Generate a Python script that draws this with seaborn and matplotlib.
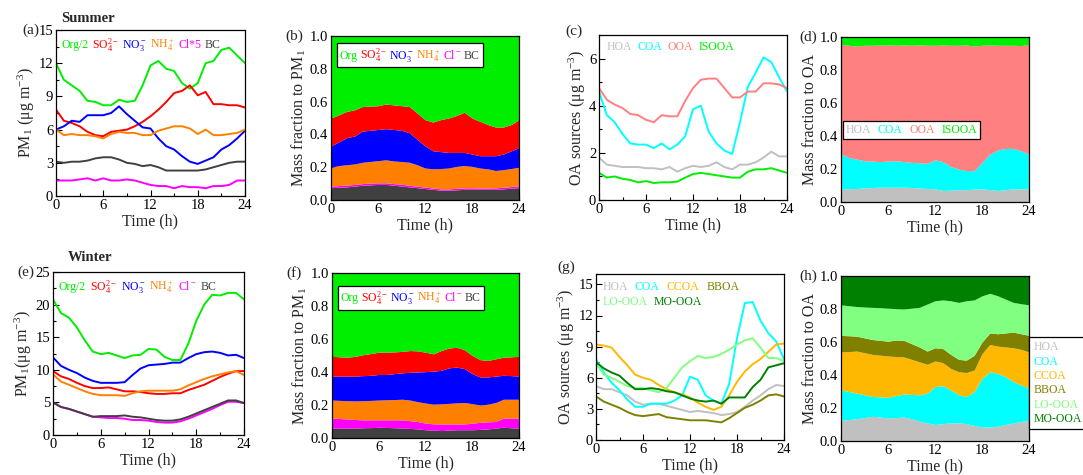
import numpy as np
import pandas as pd
import matplotlib
matplotlib.use("Agg")
import matplotlib.pyplot as plt
from matplotlib.ticker import MultipleLocator, FormatStrFormatter
from matplotlib.lines import Line2D
import seaborn as sns

# ---------------- data ----------------
hours = list(range(25))

# (a) Summer concentrations (ug m-3)
s_org2 = [12.0, 10.5, 10.0, 9.5, 8.6, 8.5, 8.2, 8.2, 8.7, 8.5, 8.6, 10.0, 11.8, 12.2, 11.5, 11.3, 10.2, 9.7, 10.2, 12.0, 12.2, 13.2, 13.4, 12.7, 12.0]
s_so4 = [7.8, 6.8, 6.6, 6.3, 5.8, 5.5, 5.4, 5.8, 5.9, 6.0, 6.3, 6.7, 7.2, 7.8, 8.5, 9.3, 9.5, 10.0, 9.1, 9.4, 8.3, 8.3, 8.2, 8.2, 8.0]
s_no3 = [6.0, 6.3, 6.8, 6.7, 7.3, 7.3, 7.3, 7.5, 8.1, 7.4, 6.8, 6.2, 6.1, 5.2, 4.5, 4.2, 3.6, 3.1, 2.9, 3.2, 3.5, 4.2, 4.6, 5.2, 5.9]
s_nh4 = [6.0, 5.5, 5.6, 5.5, 5.5, 5.4, 5.2, 5.6, 5.8, 5.7, 5.7, 5.5, 5.5, 5.9, 6.1, 6.3, 6.3, 6.1, 5.6, 6.0, 5.5, 5.5, 5.6, 5.7, 6.0]
s_cl5 = [1.4, 1.4, 1.4, 1.5, 1.6, 1.4, 1.6, 1.4, 1.4, 1.5, 1.4, 1.2, 1.0, 0.9, 0.9, 0.7, 0.9, 0.8, 0.8, 0.7, 0.9, 0.9, 1.0, 1.4, 1.4]
s_bc = [3.1, 3.0, 3.1, 3.1, 3.2, 3.4, 3.5, 3.5, 3.3, 3.0, 2.9, 2.7, 2.8, 2.6, 2.3, 2.3, 2.3, 2.3, 2.3, 2.4, 2.6, 2.8, 3.0, 3.1, 3.1]

# (b) Summer mass fractions to PM1
sf_bc = [.075, .078, .080, .085, .090, .092, .095, .095, .090, .085, .080, .075, .070, .065, .060, .060, .062, .065, .065, .065, .065, .065, .068, .072, .075]
sf_cl = [.010, .010, .011, .010, .010, .011, .010, .010, .010, .011, .010, .009, .009, .008, .008, .008, .009, .009, .009, .008, .008, .009, .010, .010, .010]
sf_nh4 = [.115, .122, .124, .125, .130, .132, .135, .140, .138, .139, .140, .131, .116, .117, .124, .127, .134, .136, .131, .122, .117, .106, .107, .110, .115]
sf_no3 = [.130, .145, .165, .170, .190, .190, .190, .190, .192, .190, .180, .155, .135, .110, .103, .095, .085, .080, .075, .075, .080, .090, .095, .108, .120]
sf_so4 = [.170, .165, .160, .160, .150, .147, .145, .150, .150, .150, .160, .160, .160, .175, .195, .210, .225, .245, .220, .210, .190, .175, .165, .160, .170]
sf_org = [.505, .485, .465, .455, .435, .433, .430, .420, .425, .430, .435, .475, .515, .530, .515, .505, .490, .470, .505, .525, .545, .560, .560, .545, .515]

# (c) Summer OA sources
s_hoa = [1.8, 1.5, 1.45, 1.4, 1.4, 1.4, 1.35, 1.35, 1.3, 1.4, 1.2, 1.35, 1.45, 1.4, 1.45, 1.6, 1.4, 1.3, 1.5, 1.5, 1.6, 1.8, 2.05, 1.85, 1.85]
s_coa = [4.6, 3.6, 3.3, 2.8, 2.4, 2.35, 2.35, 2.2, 2.4, 2.15, 2.35, 2.7, 3.85, 4.0, 2.9, 2.4, 2.1, 1.95, 3.3, 4.8, 5.4, 6.05, 5.85, 5.2, 4.6]
s_ooa = [4.75, 4.25, 4.05, 3.9, 3.65, 3.6, 3.4, 3.3, 3.6, 3.55, 3.55, 4.2, 4.75, 5.1, 5.15, 5.15, 4.75, 4.35, 4.35, 4.6, 4.6, 4.95, 4.95, 4.9, 4.75]
s_isooa = [1.15, 0.95, 1.0, 0.9, 0.85, 0.75, 0.8, 0.72, 0.75, 0.75, 0.78, 0.95, 1.1, 1.15, 1.1, 1.05, 1.0, 0.95, 0.95, 1.2, 1.3, 1.3, 1.35, 1.25, 1.15]

# (d) Summer OA fractions
sd_hoa = [.080, .080, .082, .085, .088, .090, .090, .090, .090, .088, .085, .082, .080, .070, .072, .075, .075, .078, .080, .075, .070, .075, .080, .080, .080]
sd_coa = [.210, .190, .178, .165, .160, .155, .158, .160, .155, .152, .153, .153, .175, .175, .143, .125, .115, .112, .160, .215, .245, .250, .245, .230, .210]
sd_ooa = [.665, .680, .685, .700, .702, .707, .704, .700, .707, .710, .714, .715, .695, .707, .735, .750, .762, .755, .710, .662, .635, .625, .625, .638, .665]
sd_isooa = [.050, .055, .060, .055, .055, .053, .053, .055, .053, .055, .053, .055, .055, .053, .055, .055, .053, .060, .055, .053, .055, .055, .055, .057, .050]

# (e) Winter concentrations
w_org2 = [20.8, 18.7, 18.0, 16.5, 14.5, 12.8, 12.4, 12.6, 12.2, 11.8, 12.2, 12.3, 13.2, 13.1, 12.0, 11.5, 11.5, 14.0, 17.5, 20.0, 21.5, 21.4, 21.8, 21.8, 20.8]
w_so4 = [9.8, 9.0, 8.6, 8.0, 7.5, 7.2, 7.2, 7.3, 7.0, 6.7, 6.7, 6.6, 6.4, 6.3, 6.3, 6.4, 6.4, 6.9, 7.3, 7.7, 8.3, 8.9, 9.4, 9.8, 9.8]
w_no3 = [11.9, 10.6, 10.0, 9.5, 8.8, 8.3, 8.0, 8.0, 8.0, 8.1, 9.2, 10.2, 10.7, 10.8, 10.9, 11.1, 11.1, 11.8, 12.4, 12.7, 12.8, 12.6, 12.2, 12.3, 11.8]
w_nh4 = [9.3, 8.2, 7.7, 7.2, 6.7, 6.3, 6.1, 6.1, 6.1, 6.0, 6.4, 6.7, 6.8, 6.8, 6.8, 6.8, 7.0, 7.6, 8.1, 8.6, 9.0, 9.3, 9.6, 9.8, 9.2]
w_cl = [5.0, 4.3, 4.0, 3.6, 3.2, 2.8, 2.7, 2.6, 2.6, 2.5, 2.3, 2.3, 2.2, 2.0, 1.9, 1.9, 2.1, 2.5, 3.0, 3.5, 4.0, 4.6, 5.1, 5.1, 4.9]
w_bc = [5.0, 4.3, 4.0, 3.6, 3.2, 2.8, 2.9, 2.9, 2.9, 3.0, 2.8, 2.7, 2.5, 2.3, 2.2, 2.2, 2.4, 2.8, 3.3, 3.8, 4.3, 4.8, 5.3, 5.3, 4.9]

# (f) Winter mass fractions to PM1
wf_bc = [.060, .060, .060, .060, .062, .063, .065, .064, .062, .060, .058, .055, .050, .048, .045, .048, .050, .050, .050, .052, .055, .060, .065, .062, .060]
wf_cl = [.060, .058, .055, .052, .048, .047, .045, .046, .048, .050, .047, .045, .040, .038, .040, .037, .035, .035, .040, .043, .043, .040, .055, .058, .060]
wf_nh4 = [.110, .110, .111, .113, .116, .118, .120, .122, .123, .125, .125, .120, .122, .119, .122, .125, .128, .130, .118, .105, .107, .115, .115, .115, .115]
wf_no3 = [.145, .147, .149, .150, .152, .152, .155, .153, .157, .160, .168, .180, .190, .200, .203, .215, .217, .205, .182, .170, .165, .160, .145, .143, .140]
wf_so4 = [.120, .117, .115, .120, .127, .132, .135, .135, .132, .130, .132, .128, .118, .105, .120, .120, .120, .115, .110, .105, .100, .105, .110, .114, .120]
wf_org = [.510, .513, .515, .510, .500, .493, .485, .485, .483, .480, .475, .477, .485, .495, .475, .460, .455, .470, .505, .530, .535, .525, .515, .513, .510]

# (g) Winter OA sources
w_hoa = [5.2, 4.9, 4.9, 4.6, 4.3, 3.7, 3.4, 3.5, 3.5, 3.3, 3.1, 2.9, 2.7, 2.8, 2.7, 2.6, 2.4, 2.5, 2.7, 3.2, 3.8, 4.3, 4.9, 5.3, 5.2]
w_coa = [7.8, 6.5, 5.5, 4.8, 3.9, 3.2, 3.2, 3.5, 3.5, 3.5, 3.8, 4.3, 6.1, 5.8, 4.3, 3.8, 3.5, 5.4, 9.8, 13.2, 13.3, 11.5, 10.3, 9.5, 7.8]
w_ccoa = [9.2, 9.1, 8.9, 8.0, 7.2, 6.3, 6.0, 5.8, 5.3, 4.9, 4.6, 4.4, 4.1, 3.6, 3.2, 2.9, 3.2, 4.3, 5.6, 6.6, 7.3, 7.8, 8.5, 9.2, 9.3]
w_bboa = [4.2, 3.7, 3.4, 3.1, 2.7, 2.4, 2.3, 2.4, 2.5, 2.2, 2.1, 2.0, 1.9, 1.9, 1.9, 1.8, 1.7, 2.1, 2.6, 3.1, 3.4, 3.8, 4.3, 4.4, 4.2]
w_looa = [7.4, 6.3, 6.0, 5.6, 5.2, 5.0, 5.0, 4.8, 4.6, 5.0, 6.0, 7.0, 7.6, 8.1, 7.9, 8.0, 8.3, 8.7, 9.2, 9.6, 9.8, 8.9, 7.9, 7.9, 7.6]
w_moooa = [7.5, 6.9, 6.5, 6.2, 5.5, 4.9, 4.9, 5.0, 4.9, 4.7, 4.6, 4.3, 4.0, 3.8, 3.7, 3.8, 3.5, 4.1, 4.1, 4.1, 5.1, 5.8, 7.0, 7.2, 7.4]

# (h) Winter OA fractions
wh_hoa = [.125, .130, .135, .142, .150, .145, .140, .142, .145, .135, .120, .110, .100, .105, .110, .110, .105, .095, .085, .085, .090, .100, .110, .118, .125]
wh_coa = [.185, .170, .155, .138, .120, .123, .125, .133, .140, .147, .160, .180, .230, .230, .200, .170, .165, .205, .295, .335, .320, .290, .250, .222, .195]
wh_ccoa = [.230, .242, .255, .255, .255, .252, .250, .237, .225, .213, .200, .175, .155, .140, .130, .140, .145, .130, .150, .165, .165, .180, .205, .215, .220]
wh_bboa = [.100, .096, .090, .090, .090, .090, .090, .100, .100, .095, .090, .080, .080, .085, .085, .075, .075, .090, .070, .070, .075, .085, .095, .095, .100]
wh_looa = [.185, .182, .180, .187, .195, .198, .200, .190, .190, .215, .240, .285, .285, .295, .325, .345, .360, .335, .280, .240, .230, .205, .180, .182, .185]
wh_moooa = [.180, .185, .190, .193, .195, .197, .200, .203, .205, .200, .195, .175, .155, .150, .155, .165, .155, .150, .125, .110, .125, .145, .165, .173, .180]

# ---------------- style ----------------
sns.set_theme(style="ticks")
plt.rcParams["font.family"] = ["Liberation Serif", "DejaVu Serif"]
plt.rcParams["mathtext.fontset"] = "custom"
plt.rcParams["mathtext.rm"] = "Liberation Serif"
plt.rcParams["mathtext.it"] = "Liberation Serif:italic"
plt.rcParams["mathtext.bf"] = "Liberation Serif:bold"
plt.rcParams["axes.linewidth"] = 0.9

GREEN = "#00EE00"
RED = "#FF0000"
BLUE = "#0000FF"
ORANGE = "#FF8000"
MAGENTA = "#FF00FF"
DGRAY = "#404040"
LGRAY = "#C0C0C0"
CYAN = "#00FFFF"
SALMON = "#FF8080"
AMBER = "#FFB800"
OLIVE = "#808000"
LGREEN = "#80FF80"
DGREEN = "#008000"

TICK_FS = 10.5
LAB_FS = 11.5
LEG_FS = 8.5

fig = plt.figure(figsize=(10.83, 4.75), dpi=100)

def make_ax(l, t, r, b):
    W, H = 1083.0, 475.0
    return fig.add_axes([l / W, 1 - b / H, (r - l) / W, (b - t) / H])

ax_a = make_ax(56, 30, 245, 196)
ax_b = make_ax(331, 36, 519, 200)
ax_c = make_ax(599, 35, 787, 200)
ax_d = make_ax(841, 37, 1029, 202)
ax_e = make_ax(53, 272, 244, 435)
ax_f = make_ax(332, 273, 519, 438)
ax_g = make_ax(596, 274, 784, 440)
ax_h = make_ax(841, 276, 1029, 441)


def style_ax(ax, ymax, ymaj, ymin, ylabel, fmt=None):
    ax.set_xlim(0, 24)
    ax.set_ylim(0, ymax)
    ax.xaxis.set_major_locator(MultipleLocator(6))
    ax.xaxis.set_minor_locator(MultipleLocator(3))
    ax.yaxis.set_major_locator(MultipleLocator(ymaj))
    ax.yaxis.set_minor_locator(MultipleLocator(ymin))
    ax.tick_params(which="both", direction="in", top=False, right=False,
                   labelsize=TICK_FS, pad=2, colors="black")
    ax.tick_params(which="major", length=4, width=0.8)
    ax.tick_params(which="minor", length=2, width=0.8)
    if fmt:
        ax.yaxis.set_major_formatter(fmt)
    ax.set_xlabel("Time (h)", fontsize=LAB_FS, labelpad=1)
    ax.set_ylabel(ylabel, fontsize=LAB_FS, labelpad=1)
    for s in ax.spines.values():
        s.set_visible(True)
        s.set_color("black")


def lines(ax, series, colors, labels, lw=1.4):
    handles = []
    for ys, c, lab in zip(series, colors, labels):
        df = pd.DataFrame({"Time": hours, "val": ys})
        sns.lineplot(data=df, x="Time", y="val", color=c, linewidth=lw, ax=ax, legend=False)
        handles.append(Line2D([], [], color=c, label=lab))
    return handles


def text_legend(ax, handles, colors, frame=False, **kw):
    leg = ax.legend(handles=handles, handlelength=0, handletextpad=0,
                    frameon=frame, fontsize=LEG_FS, labelcolor=colors,
                    borderaxespad=0, **kw)
    for h in leg.legend_handles:
        h.set_visible(False)
    if frame:
        fr = leg.get_frame()
        fr.set_edgecolor("black")
        fr.set_facecolor("white")
        fr.set_alpha(1)
        fr.set_linewidth(0.9)
        fr.set_boxstyle("square", pad=0)
    return leg


def panel_label(ax, txt, x, y=1.0):
    ax.text(x, y, txt, transform=ax.transAxes, ha="right", va="center",
            fontsize=TICK_FS + 0.5)

f1 = FormatStrFormatter("%.1f")

ug = "(\u03bcg m$^{-3}$)"

# (a)
cols_a = [GREEN, RED, BLUE, ORANGE, MAGENTA, DGRAY]
labs_a = ["Org/2", r"SO$_4^{2-}$", r"NO$_3^-$", r"NH$_4^+$", "Cl*5", "BC"]
h = lines(ax_a, [s_org2, s_so4, s_no3, s_nh4, s_cl5, s_bc], cols_a, labs_a)
style_ax(ax_a, 15, 3, 1.5, "PM$_1$ " + ug)
text_legend(ax_a, h, cols_a, ncol=6, columnspacing=0.3, loc="upper left",
            bbox_to_anchor=(0.01, 0.985), borderpad=0.3)
panel_label(ax_a, "(a)", -0.09)
ax_a.text(0.03, 1.07, "Summer", transform=ax_a.transAxes, fontsize=10.5,
          fontweight="bold", ha="left", va="center")

# (b)
cols_pm = [DGRAY, MAGENTA, ORANGE, BLUE, RED, GREEN]
ax_b.stackplot(hours, sf_bc, sf_cl, sf_nh4, sf_no3, sf_so4, sf_org,
               colors=cols_pm, linewidth=0)
style_ax(ax_b, 1.0, 0.2, 0.1, "Mass fraction to PM$_1$", f1)
hb = [Line2D([], [], label=l) for l in ["Org", r"SO$_4^{2-}$", r"NO$_3^-$", r"NH$_4^+$", r"Cl$^-$", "BC"]]
text_legend(ax_b, hb, [GREEN, RED, BLUE, ORANGE, MAGENTA, DGRAY], frame=True, ncol=6,
            columnspacing=0.2, loc="upper left", bbox_to_anchor=(0.03, 0.955), borderpad=0.25)
panel_label(ax_b, "(b)", -0.15)

# (c)
cols_c = [LGRAY, CYAN, SALMON, GREEN]
h = lines(ax_c, [s_hoa, s_coa, s_ooa, s_isooa], cols_c, ["HOA", "COA", "OOA", "ISOOA"])
style_ax(ax_c, 7, 2, 1, "OA sources " + ug)
text_legend(ax_c, h, cols_c, ncol=4, columnspacing=0.45, loc="upper left",
            bbox_to_anchor=(0.02, 0.985), borderpad=0.3)
panel_label(ax_c, "(c)", -0.09, 1.02)

# (d)
ax_d.stackplot(hours, sd_hoa, sd_coa, sd_ooa, sd_isooa,
               colors=[LGRAY, CYAN, SALMON, GREEN], linewidth=0)
style_ax(ax_d, 1.0, 0.2, 0.1, "Mass fraction to OA", f1)
hd = [Line2D([], [], label=l) for l in ["HOA", "COA", "OOA", "ISOOA"]]
text_legend(ax_d, hd, cols_c, frame=True, ncol=4, columnspacing=0.55,
            loc="center left", bbox_to_anchor=(0.01, 0.435), borderpad=0.25)
panel_label(ax_d, "(d)", -0.125)

# (e)
cols_e = [GREEN, RED, BLUE, ORANGE, MAGENTA, DGRAY]
labs_e = ["Org/2", r"SO$_4^{2-}$", r"NO$_3^-$", r"NH$_4^+$", r"Cl$^-$", "BC"]
h = lines(ax_e, [w_org2, w_so4, w_no3, w_nh4, w_cl, w_bc], cols_e, labs_e)
style_ax(ax_e, 25, 5, 2.5, "PM$_1$" + ug)
text_legend(ax_e, h, cols_e, ncol=6, columnspacing=0.35, loc="upper left",
            bbox_to_anchor=(0.01, 0.985), borderpad=0.3)
panel_label(ax_e, "(e)", -0.10)
ax_e.text(0.08, 1.09, "Winter", transform=ax_e.transAxes, fontsize=10.5,
          fontweight="bold", ha="left", va="center")

# (f)
ax_f.stackplot(hours, wf_bc, wf_cl, wf_nh4, wf_no3, wf_so4, wf_org,
               colors=cols_pm, linewidth=0)
style_ax(ax_f, 1.0, 0.2, 0.1, "Mass fraction to PM$_1$", f1)
hf = [Line2D([], [], label=l) for l in ["Org", r"SO$_4^{2-}$", r"NO$_3^-$", r"NH$_4^+$", r"Cl$^-$", "BC"]]
text_legend(ax_f, hf, [GREEN, RED, BLUE, ORANGE, MAGENTA, DGRAY], frame=True, ncol=6,
            columnspacing=0.2, loc="upper left", bbox_to_anchor=(0.03, 0.92), borderpad=0.25)
panel_label(ax_f, "(f)", -0.16)

# (g)
cols_g = [LGRAY, CYAN, AMBER, OLIVE, LGREEN, DGREEN]
labs_g = ["HOA", "COA", "CCOA", "BBOA", "LO-OOA", "MO-OOA"]
h = lines(ax_g, [w_hoa, w_coa, w_ccoa, w_bboa, w_looa, w_moooa], cols_g, labs_g)
style_ax(ax_g, 16, 3, 1.5, "OA sources " + ug)
leg1 = text_legend(ax_g, h[:4], cols_g[:4], ncol=4, columnspacing=0.6, loc="upper left",
                   bbox_to_anchor=(0.02, 0.97), borderpad=0.2)
ax_g.add_artist(leg1)
text_legend(ax_g, h[4:], cols_g[4:], ncol=2, columnspacing=0.5, loc="upper left",
            bbox_to_anchor=(0.02, 0.88), borderpad=0.2)
panel_label(ax_g, "(g)", -0.11, 1.04)

# (h)
ax_h.stackplot(hours, wh_hoa, wh_coa, wh_ccoa, wh_bboa, wh_looa, wh_moooa,
               colors=cols_g, linewidth=0)
style_ax(ax_h, 1.0, 0.2, 0.1, "Mass fraction to OA", f1)
hh = [Line2D([], [], label=l) for l in labs_g]
legh = text_legend(ax_h, hh, cols_g, frame=True, ncol=1, labelspacing=0.2,
                   loc="upper left", bbox_to_anchor=(1.0, 0.63), borderpad=0.35)
panel_label(ax_h, "(h)", -0.125)

fig.savefig("out.png", dpi=100)
